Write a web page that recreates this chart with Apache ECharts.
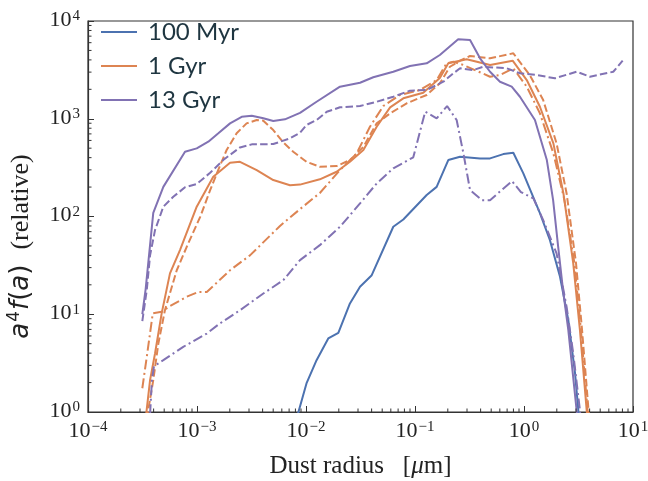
<!DOCTYPE html>
<html>
<head>
<meta charset="utf-8">
<script src="https://cdn.jsdelivr.net/npm/echarts@6/dist/echarts.min.js"></script>
<style>
html, body { margin: 0; padding: 0; background: #fff; }
#Chart { width: 648px; height: 481px; }
</style>
</head>
<body>
<div id="Chart"></div>
<script>
// axis ranges (log)
const XMin = 1e-4, XMax = 10
const YMin = 1, YMax = 1e4
const XMinorTicks = [2e-4, 3e-4, 4e-4, 5e-4, 6e-4, 7e-4, 8e-4, 9e-4,
    2e-3, 3e-3, 4e-3, 5e-3, 6e-3, 7e-3, 8e-3, 9e-3,
    2e-2, 3e-2, 4e-2, 5e-2, 6e-2, 7e-2, 8e-2, 9e-2,
    0.2, 0.3, 0.4, 0.5, 0.6, 0.7, 0.8, 0.9,
    2, 3, 4, 5, 6, 7, 8, 9]
const YMinorTicks = [2, 3, 4, 5, 6, 7, 8, 9,
    20, 30, 40, 50, 60, 70, 80, 90,
    200, 300, 400, 500, 600, 700, 800, 900,
    2000, 3000, 4000, 5000, 6000, 7000, 8000, 9000]

// 100 Myr
const Myr100Solid = [
    [8.3e-3, 0.9], [1.01e-2, 1.96], [1.25e-2, 3.39], [1.60e-2, 5.65], [1.98e-2, 6.46],
    [2.53e-2, 12.9], [3.13e-2, 19.1], [4.01e-2, 25.1], [6.32e-2, 78.5], [7.81e-2, 93.3],
    [0.128, 166], [0.158, 201], [0.202, 378], [0.259, 408], [0.395, 393], [0.488, 393],
    [0.646, 435], [0.798, 449], [0.986, 276], [1.40, 108], [1.73, 57.3], [2.14, 24.2],
    [2.55, 8.71], [2.94, 2.48], [3.15, 1.04], [3.2, 0.8]
]
// 1 Gyr
const Gyr1Solid = [
    [3.38e-4, 0.85], [3.71e-4, 2.12], [4.12e-4, 3.97], [4.74e-4, 10.2], [5.65e-4, 26.2],
    [6.98e-4, 45.3], [9.94e-4, 126], [1.41e-3, 255], [2.01e-3, 355], [2.48e-3, 363],
    [3.53e-3, 298], [5.01e-3, 236], [7.13e-3, 209], [8.81e-3, 212], [1.34e-2, 240],
    [1.91e-2, 287], [2.53e-2, 363], [3.36e-2, 479], [4.45e-2, 828], [5.91e-2, 1309],
    [7.81e-2, 1618], [0.119, 1845], [0.169, 2612], [0.202, 3690], [0.298, 4055],
    [0.488, 3548], [0.787, 3925], [1.06, 2489], [1.40, 1327], [1.86, 560], [2.30, 172],
    [2.83, 33.1], [3.26, 6.87], [3.76, 1.04], [3.85, 0.8]
]
const Gyr1Dashed = [
    [3.46e-4, 0.85], [3.97e-4, 2.12], [4.42e-4, 5.02], [5.08e-4, 11.0], [6.52e-4, 28.2],
    [8.05e-4, 49.0], [1.07e-3, 99.3], [1.32e-3, 186], [1.52e-3, 276], [1.87e-3, 479],
    [2.31e-3, 710], [2.85e-3, 897], [3.53e-3, 970], [4.06e-3, 955], [5.01e-3, 766],
    [6.15e-3, 577], [7.64e-3, 459], [1.01e-2, 363], [1.34e-2, 323], [1.91e-2, 328],
    [2.53e-2, 378], [3.36e-2, 516], [4.45e-2, 897], [5.91e-2, 1135], [8.39e-2, 1439],
    [0.128, 1750], [0.169, 2302], [0.209, 3404], [0.259, 3925], [0.320, 4385],
    [0.488, 4150], [0.798, 4668], [1.13, 2800], [1.50, 1552], [1.99, 560], [2.46, 172],
    [3.00, 33.4], [3.41, 6.87], [3.91, 1.04], [4.0, 0.8]
]
const Gyr1DashDot = [
    [3.15e-4, 1.75], [3.46e-4, 3.66], [3.93e-4, 10.2], [4.74e-4, 10.6], [5.65e-4, 12.1],
    [8.05e-4, 15.1], [1.03e-3, 16.9], [1.23e-3, 16.9], [2.01e-3, 28.2], [3.06e-3, 40],
    [5.77e-3, 80], [8.81e-3, 119], [1.34e-2, 174], [2.05e-2, 298], [2.92e-2, 443],
    [3.86e-2, 828], [5.12e-2, 1349], [7.28e-2, 1750], [0.111, 1968], [0.158, 2489],
    [0.195, 3690], [0.225, 3828], [0.278, 3548], [0.488, 2692], [0.602, 2800],
    [0.798, 3283], [1.06, 2128], [1.40, 1135], [1.86, 443], [2.35, 147], [2.90, 33.4],
    [3.33, 6.87], [3.83, 1.04], [3.92, 0.8]
]
// 13 Gyr
const Gyr13Solid = [
    [3.15e-4, 10], [3.38e-4, 18.1], [3.97e-4, 109], [4.91e-4, 201], [7.76e-4, 459],
    [9.94e-4, 498], [1.27e-3, 582], [1.57e-3, 710], [2.01e-3, 897], [2.57e-3, 1048],
    [3.18e-3, 1074], [4.06e-3, 1010], [5.01e-3, 948], [6.41e-3, 986], [8.81e-3, 1150],
    [1.25e-2, 1493], [2.05e-2, 2128], [3.13e-2, 2335], [4.14e-2, 2656], [6.32e-2, 3026],
    [8.99e-2, 3459], [0.128, 3690], [0.169, 4488], [0.249, 6505], [0.320, 6398],
    [0.395, 4150], [0.488, 3027], [0.602, 2393], [0.771, 2128], [0.918, 1679],
    [1.26, 970], [1.62, 378], [1.85, 147], [2.05, 50.9], [2.28, 17.7], [2.55, 6.87],
    [3.04, 1.04], [3.12, 0.8]
]
const Gyr13Dashed = [
    [3.15e-4, 8.5], [3.46e-4, 17.7], [3.71e-4, 40], [4.12e-4, 72.6], [4.91e-4, 126],
    [6.06e-4, 159], [7.76e-4, 199], [9.94e-4, 215], [1.32e-3, 280], [1.74e-3, 378],
    [2.48e-3, 509], [3.18e-3, 547], [5.01e-3, 551], [7.13e-3, 630], [8.81e-3, 719],
    [1.01e-2, 863], [1.25e-2, 970], [1.55e-2, 1180], [2.05e-2, 1309], [3.13e-2, 1349],
    [4.45e-2, 1493], [6.32e-2, 1679], [8.99e-2, 1937], [0.128, 1968], [0.182, 2393],
    [0.225, 2917], [0.259, 3283], [0.343, 3150], [0.423, 3404], [0.694, 3283],
    [0.918, 2917], [1.31, 2800], [1.92, 2595], [3.04, 3026], [4.03, 2692],
    [6.59, 3026], [8.04, 3925]
]
const Gyr13DashDot = [
    [3.71e-4, 0.95], [3.86e-4, 2.12], [4.03e-4, 2.94], [4.91e-4, 3.39], [7.48e-4, 4.64],
    [1.23e-3, 6.35], [1.62e-3, 8.05], [2.48e-3, 11.0], [4.06e-3, 16.3], [6.19e-3, 22.3],
    [8.81e-3, 35.8], [1.34e-2, 50.9], [2.05e-2, 78.5], [3.13e-2, 136], [4.45e-2, 218],
    [6.32e-2, 311], [9.64e-2, 403], [0.124, 1180], [0.158, 1009], [0.197, 1349],
    [0.241, 970], [0.278, 443], [0.320, 186], [0.412, 147], [0.488, 147], [0.776, 230],
    [0.937, 178], [1.22, 153], [1.50, 91.8], [1.99, 41.9], [2.46, 11.9], [2.83, 3.97],
    [3.26, 1.04], [3.32, 0.8]
]

const BlueColor = '#4c72b0'
const OrangeColor = '#dd8452'
const PurpleColor = '#8172b3'
const AxisColor = '#333333'
const DashStyle = [7.5, 3.2]
const DashDotStyle = [10, 3.5, 2, 3.5]

function PowLabel(v) {
    let e = Math.round(Math.log10(v))
    return '{b|10}{s|' + (e < 0 ? '\u2212' + (-e) : e) + '}'
}

let powRich = {
    b: { fontFamily: 'Liberation Serif', fontSize: 22, color: '#222', lineHeight: 22, verticalAlign: 'bottom' },
    s: { fontFamily: 'Liberation Serif', fontSize: 15, color: '#222', lineHeight: 15, verticalAlign: 'top', padding: [0, 0, 14, 1] }
}

function LineSeries(name, data, color, dash) {
    return {
        name: name,
        type: 'line',
        data: data,
        symbol: 'none',
        clip: true,
        lineStyle: { color: color, width: 2, type: dash },
        itemStyle: { color: color }
    }
}

function MinorTickSeries(values, onX) {
    return {
        type: 'custom',
        silent: true,
        z: 10,
        data: values.map(v => onX ? [v, YMin] : [XMin, v]),
        renderItem: function (params, api) {
            let p = api.coord([api.value(0), api.value(1)])
            return {
                type: 'line',
                shape: onX ? { x1: p[0], y1: p[1], x2: p[0], y2: p[1] - 3.5 }
                           : { x1: p[0], y1: p[1], x2: p[0] + 3.5, y2: p[1] },
                style: { stroke: AxisColor, lineWidth: 1 }
            }
        }
    }
}

let chart = echarts.init(document.getElementById('Chart'))

let options = {
    animation: false,
    grid: {
        left: 88, top: 21, right: 15, bottom: 69,
        containLabel: false, outerBoundsMode: 'none',
        show: true, borderColor: AxisColor, borderWidth: 1.2, backgroundColor: 'transparent'
    },
    legend: {
        data: ['100 Myr', '1 Gyr', '13 Gyr'],
        orient: 'vertical',
        left: 96,
        top: 15,
        icon: 'rect',
        itemWidth: 36,
        itemHeight: 2.2,
        itemGap: 10,
        textStyle: { fontFamily: 'Lato', fontSize: 24, color: '#1e3540', padding: [0, 0, 0, 6] }
    },
    xAxis: {
        type: 'log',
        logBase: 10,
        min: XMin,
        max: XMax,
        name: '{r|Dust radius   [}{m|\u03bc}{r|m]}',
        nameLocation: 'middle',
        nameGap: 38,
        nameTextStyle: {
            rich: {
                r: { fontFamily: 'Liberation Serif', fontSize: 25, color: '#222' },
                m: { fontFamily: 'Liberation Serif', fontStyle: 'italic', fontSize: 25, color: '#222' }
            }
        },
        axisLine: { lineStyle: { color: AxisColor, width: 1.2 } },
        axisTick: { inside: true, length: 6, lineStyle: { color: AxisColor } },
        axisLabel: { formatter: PowLabel, rich: powRich, margin: 8, showMinLabel: true, showMaxLabel: true },
        splitLine: { show: false }
    },
    yAxis: {
        type: 'log',
        logBase: 10,
        min: YMin,
        max: YMax,
        name: '{i|a}{p|4}{i|f}{n|(}{i|a}{n|)}{r|(relative)}',
        nameLocation: 'middle',
        nameRotate: 90,
        nameGap: 54,
        nameTextStyle: {
            padding: [0, 60, 0, 0],
            rich: {
                i: { fontFamily: 'DejaVu Sans', fontStyle: 'italic', fontSize: 26, color: '#222', lineHeight: 28, verticalAlign: 'bottom' },
                n: { fontFamily: 'DejaVu Sans', fontSize: 26, color: '#222', lineHeight: 28, verticalAlign: 'bottom' },
                p: { fontFamily: 'DejaVu Sans', fontSize: 17, color: '#222', lineHeight: 17, verticalAlign: 'top', padding: [0, 1, 8, 1] },
                r: { fontFamily: 'Liberation Serif', fontSize: 26, color: '#222', lineHeight: 28, verticalAlign: 'bottom', padding: [0, 0, 0, 15] }
            }
        },
        axisLine: { lineStyle: { color: AxisColor, width: 1.2 } },
        axisTick: { inside: true, length: 6, lineStyle: { color: AxisColor } },
        axisLabel: { formatter: PowLabel, rich: powRich, margin: 8, padding: [0, 0, 2, 0], showMinLabel: true, showMaxLabel: true },
        splitLine: { show: false }
    },
    series: [
        LineSeries('100 Myr', Myr100Solid, BlueColor, 'solid'),
        LineSeries('1 Gyr', Gyr1Solid, OrangeColor, 'solid'),
        LineSeries('1 Gyr dashed', Gyr1Dashed, OrangeColor, DashStyle),
        LineSeries('1 Gyr dashdot', Gyr1DashDot, OrangeColor, DashDotStyle),
        LineSeries('13 Gyr', Gyr13Solid, PurpleColor, 'solid'),
        LineSeries('13 Gyr dashed', Gyr13Dashed, PurpleColor, DashStyle),
        LineSeries('13 Gyr dashdot', Gyr13DashDot, PurpleColor, DashDotStyle),
        MinorTickSeries(XMinorTicks, true),
        MinorTickSeries(YMinorTicks, false)
    ]
}

chart.setOption(options)
</script>
</body>
</html>
